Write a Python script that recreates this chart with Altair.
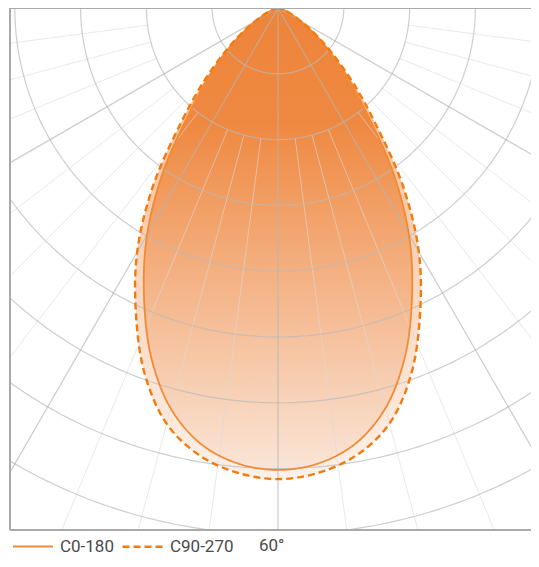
import math
import altair as alt
import pandas as pd

# ---- data ----
angles = [0, 5, 10, 15, 20, 25, 30, 35, 40, 45, 50, 55, 60, 65, 70, 75, 80, 85, 90]
c0_180 = [702, 695, 673, 630, 564, 482, 398, 305, 212, 150, 102, 66, 38, 21, 11, 5, 2, 1, 0]
c90_270 = [716, 709, 690, 654, 592, 511, 428, 332, 232, 162, 108, 69, 40, 22, 11, 5, 2, 1, 0]
series_names = ["C0-180", "C90-270"]
beam_angle = "60°"

circle_radii = [100, 200, 300, 400, 500, 600, 700, 800, 900]
major_rays = [-60, -30, 0, 30, 60]
minor_rays = [-82.5, -75, -67.5, -52.5, -45, -37.5, -22.5, -15, -7.5,
              7.5, 15, 22.5, 37.5, 45, 52.5, 67.5, 75, 82.5]

PX = 0.658           # pixels per unit
W, H = 521, 522
XDOM = [-268 / PX, (W - 268) / PX]
YDOM = [-H / PX, 0]


def polar_rows(name, vals):
    rows = []
    full = [(-a, v) for a, v in zip(angles[::-1], vals[::-1])] + \
           [(a, v) for a, v in zip(angles[1:], vals[1:])]
    for i, (a, v) in enumerate(full):
        t = math.radians(a)
        rows.append({"series": name, "i": i, "x": v * math.sin(t), "y": -v * math.cos(t)})
    return rows


curves = pd.DataFrame(polar_rows(series_names[0], c0_180) + polar_rows(series_names[1], c90_270))

circ_rows = []
for r in circle_radii:
    for k, a in enumerate(range(-90, 91, 1)):
        t = math.radians(a)
        circ_rows.append({"r": r, "i": k, "x": r * math.sin(t), "y": -r * math.cos(t)})
circles = pd.DataFrame(circ_rows)


def ray_rows(angs, r0):
    rows = []
    for a in angs:
        t = math.radians(a)
        for k, r in enumerate([r0, 1300]):
            rows.append({"a": a, "i": k, "x": r * math.sin(t), "y": -r * math.cos(t)})
    return pd.DataFrame(rows)


majors = ray_rows(major_rays, 0)
minors = ray_rows(minor_rays, 200)

X = alt.X("x:Q", scale=alt.Scale(domain=XDOM, nice=False, zero=False), axis=None)
Y = alt.Y("y:Q", scale=alt.Scale(domain=YDOM, nice=False, zero=False), axis=None)


def grad(c_top, c_mid, c_bot):
    return alt.Gradient(
        gradient="linear",
        stops=[alt.GradientStop(color=c_top, offset=0),
               alt.GradientStop(color=c_mid, offset=0.25),
               alt.GradientStop(color=c_bot, offset=1)],
        x1=0, x2=0, y1=0, y2=1)


fill90 = alt.Chart(curves).transform_filter(alt.datum.series == series_names[1]).mark_line(
    fill=grad("#EE7F33", "#EE8439", "#FAE2D2"), fillOpacity=0.5, strokeOpacity=0,
    interpolate="catmull-rom", clip=True
).encode(x=X, y=Y, order="i:Q")

fill0 = alt.Chart(curves).transform_filter(alt.datum.series == series_names[0]).mark_line(
    fill=grad("#EE7F33", "#EE8439", "#FAE4D6"), fillOpacity=0.92, strokeOpacity=0,
    interpolate="catmull-rom", clip=True
).encode(x=X, y=Y, order="i:Q")

circ_layer = alt.Chart(circles).mark_line(color="#b9b9b9", strokeWidth=1.2, opacity=0.7, clip=True).encode(
    x=X, y=Y, detail="r:N", order="i:Q")
major_layer = alt.Chart(majors).mark_line(color="#b5b5b5", strokeWidth=1.2, opacity=0.7, clip=True).encode(
    x=X, y=Y, detail="a:N", order="i:Q")
minor_layer = alt.Chart(minors).mark_line(color="#dadada", strokeWidth=1, opacity=0.6, clip=True).encode(
    x=X, y=Y, detail="a:N", order="i:Q")

leg = dict(title=None, orient="none", direction="horizontal",
           legendX=2, legendY=H - 5, symbolType="stroke", symbolSize=1600,
           symbolStrokeWidth=3, symbolOpacity=1, labelFontSize=17,
           labelFont="Roboto", labelColor="#4a4a4a", labelOffset=6,
           columnPadding=3)

outline = alt.Chart(curves).mark_line(interpolate="catmull-rom", clip=True).encode(
    x=X, y=Y, order="i:Q",
    color=alt.Color("series:N", scale=alt.Scale(domain=series_names, range=["#F28A33", "#F47A0E"]),
                    legend=alt.Legend(**leg)),
    strokeDash=alt.StrokeDash("series:N", scale=alt.Scale(domain=series_names, range=[[1, 0], [7, 4]]),
                              legend=alt.Legend(**leg)),
    strokeWidth=alt.StrokeWidth("series:N", scale=alt.Scale(domain=series_names, range=[1.8, 2.4]),
                                legend=None),
)

dummy = pd.DataFrame({"t": [beam_angle]})
border_left = alt.Chart(dummy).mark_rule(color="#aaaaaa", strokeWidth=2).encode(
    x=alt.value(0), y=alt.value(0), y2=alt.value(H))
border_top = alt.Chart(dummy).mark_rule(color="#aaaaaa", strokeWidth=2).encode(
    x=alt.value(0), x2=alt.value(W), y=alt.value(0))
border_bottom = alt.Chart(dummy).mark_rule(color="#aaaaaa", strokeWidth=2).encode(
    x=alt.value(0), x2=alt.value(W), y=alt.value(H))
beam_text = alt.Chart(dummy).mark_text(font="Roboto", fontSize=17, color="#4a4a4a", align="left",
                                       baseline="middle").encode(
    text="t:N", x=alt.value(249), y=alt.value(H + 16))

chart = alt.layer(
    fill90, fill0, minor_layer, circ_layer, major_layer, outline,
    border_left, border_top, border_bottom, beam_text
).properties(
    width=W, height=H, padding={"left": 2, "top": 0, "right": 0, "bottom": 25},
    autosize=alt.AutoSizeParams(type="none")
).configure_view(stroke=None)

chart.save("out.html", embed_options={"renderer": "svg", "actions": False})
